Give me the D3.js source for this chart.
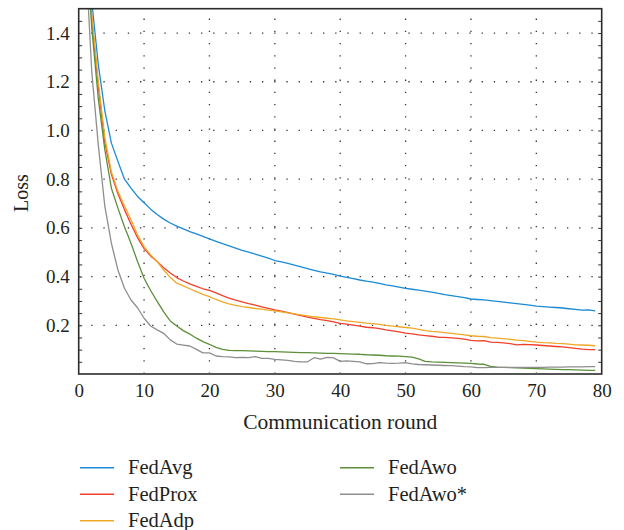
<!DOCTYPE html>
<html>
<head>
<meta charset="utf-8">
<script src="https://cdn.jsdelivr.net/npm/d3@7"></script>
<style>
  html, body { margin: 0; padding: 0; background: #fff; }
  svg { display: block; }
  text { font-family: "Liberation Serif", "Times New Roman", serif; fill: #231f20; }
</style>
</head>
<body>
<svg id="chart" width="624" height="530"></svg>
<script>
// ---- data ----
const rounds = d3.range(1, 80);
const seriesNames = ["FedAvg", "FedProx", "FedAdp", "FedAwo", "FedAwo*"];
const seriesColors = ["#1a8ad6", "#f23f2a", "#f0a828", "#5b8f3a", "#8e8e8e"];

const fedAvg = [2.0,1.53,1.27,1.08,0.948,0.873,0.80,0.763,0.729,0.703,0.677,0.655,0.636,0.62,0.607,0.596,0.585,0.575,0.565,0.555,
  0.545,0.535,0.526,0.517,0.508,0.500,0.492,0.484,0.476,0.466,0.46,0.454,0.447,0.44,0.433,0.426,0.419,0.414,0.409,0.402,
  0.397,0.392,0.386,0.381,0.377,0.372,0.366,0.362,0.357,0.352,0.348,0.344,0.340,0.336,0.331,0.326,0.322,0.318,0.314,0.308,
  0.306,0.304,0.301,0.298,0.295,0.292,0.289,0.286,0.283,0.279,0.277,0.275,0.273,0.271,0.268,0.265,0.262,0.263,0.259];
const fedProx = [1.9,1.46,1.18,0.95,0.82,0.74,0.675,0.615,0.56,0.515,0.485,0.462,0.436,0.415,0.396,0.382,0.370,0.360,0.350,0.343,
  0.333,0.322,0.312,0.303,0.296,0.289,0.283,0.276,0.269,0.263,0.258,0.252,0.246,0.24,0.234,0.228,0.223,0.219,0.214,0.208,
  0.205,0.201,0.197,0.192,0.19,0.186,0.181,0.177,0.173,0.168,0.165,0.161,0.158,0.155,0.151,0.150,0.148,0.146,0.143,0.138,
  0.136,0.137,0.131,0.130,0.128,0.125,0.120,0.122,0.121,0.119,0.117,0.115,0.113,0.111,0.108,0.105,0.102,0.100,0.100];
const fedAdp = [1.9,1.47,1.20,0.97,0.83,0.75,0.69,0.633,0.571,0.523,0.489,0.462,0.427,0.397,0.373,0.362,0.350,0.338,0.327,0.318,
  0.306,0.296,0.288,0.282,0.277,0.273,0.269,0.266,0.262,0.259,0.255,0.251,0.247,0.243,0.239,0.235,0.232,0.229,0.226,0.222,
  0.218,0.215,0.212,0.209,0.207,0.204,0.200,0.197,0.194,0.191,0.188,0.183,0.178,0.175,0.173,0.170,0.167,0.164,0.161,0.157,
  0.155,0.154,0.149,0.147,0.145,0.142,0.139,0.137,0.134,0.131,0.129,0.128,0.126,0.125,0.123,0.120,0.119,0.118,0.116];
const fedAwo = [1.85,1.42,1.13,0.92,0.763,0.681,0.605,0.537,0.462,0.393,0.343,0.298,0.255,0.218,0.197,0.178,0.164,0.147,0.133,0.122,
  0.109,0.101,0.097,0.096,0.096,0.095,0.094,0.093,0.092,0.092,0.091,0.090,0.089,0.088,0.088,0.087,0.086,0.085,0.085,0.084,
  0.083,0.082,0.081,0.079,0.078,0.077,0.075,0.074,0.073,0.071,0.069,0.062,0.052,0.050,0.049,0.048,0.047,0.046,0.045,0.044,
  0.041,0.040,0.031,0.028,0.027,0.026,0.025,0.024,0.023,0.022,0.021,0.020,0.019,0.018,0.018,0.017,0.016,0.015,0.015];
const fedAwoStar = [1.75,1.24,0.94,0.688,0.537,0.427,0.352,0.304,0.272,0.229,0.197,0.181,0.167,0.140,0.123,0.119,0.115,0.101,0.087,0.087,
  0.074,0.071,0.070,0.067,0.068,0.067,0.071,0.064,0.064,0.060,0.058,0.056,0.052,0.050,0.050,0.067,0.061,0.068,0.066,0.052,
  0.054,0.052,0.050,0.042,0.043,0.047,0.045,0.044,0.045,0.047,0.042,0.039,0.038,0.037,0.036,0.035,0.034,0.032,0.030,0.029,
  0.026,0.026,0.027,0.027,0.027,0.027,0.027,0.027,0.027,0.027,0.027,0.028,0.028,0.028,0.029,0.029,0.029,0.030,0.030];
const seriesValues = [fedAvg, fedProx, fedAdp, fedAwo, fedAwoStar];

const xTicks = [0, 10, 20, 30, 40, 50, 60, 70, 80];
const yTicks = [0.2, 0.4, 0.6, 0.8, 1.0, 1.2, 1.4];
const yTickLabels = ["0.2", "0.4", "0.6", "0.8", "1.0", "1.2", "1.4"];
const xTitle = "Communication round";
const yTitle = "Loss";

// ---- layout ----
const L = 78.7, R = 601.7, T = 8.7, B = 374;
const svg = d3.select("#chart");
const x = d3.scaleLinear().domain([0, 80]).range([L, R]);
const y = d3.scaleLinear().domain([0, 1.5]).range([B, T]);

// grid (dotted)
const grid = svg.append("g").attr("stroke", "#333").attr("stroke-width", 1.3)
  .attr("stroke-dasharray", "1.3 10.9");
grid.selectAll("line.h").data(yTicks).join("line")
  .attr("x1", L + 1).attr("x2", R)
  .attr("y1", d => y(d)).attr("y2", d => y(d))
  .attr("stroke-dashoffset", -11.5);
grid.selectAll("line.v").data(xTicks.slice(1, -1)).join("line")
  .attr("x1", d => x(d)).attr("x2", d => x(d))
  .attr("y1", B - 1).attr("y2", T)
  .attr("stroke-dashoffset", -11.5);

// lines
svg.append("clipPath").attr("id", "clip").append("rect")
  .attr("x", L).attr("y", T - 0.5).attr("width", R - L).attr("height", B - T + 0.5);
const line = d3.line().x((d, i) => x(rounds[i])).y(d => y(d));
svg.append("g").attr("clip-path", "url(#clip)")
  .selectAll("path").data(seriesValues).join("path")
  .attr("d", d => line(d))
  .attr("fill", "none")
  .attr("stroke", (d, i) => seriesColors[i])
  .attr("stroke-width", 1.3)
  .attr("stroke-linejoin", "round");

// minor ticks on left and right (inward)
const minor = d3.range(0.05, 1.5, 0.05);
svg.append("g").attr("transform", `translate(${L},0)`)
  .call(d3.axisRight(y).tickValues(minor).tickSize(3.5).tickFormat(""))
  .call(g => g.select(".domain").remove())
  .selectAll("line").attr("stroke", "#333").attr("stroke-width", 1);
svg.append("g").attr("transform", `translate(${R},0)`)
  .call(d3.axisLeft(y).tickValues(minor).tickSize(3.5).tickFormat(""))
  .call(g => g.select(".domain").remove())
  .selectAll("line").attr("stroke", "#333").attr("stroke-width", 1);

// frame
svg.append("rect").attr("x", L).attr("y", T).attr("width", R - L).attr("height", B - T)
  .attr("fill", "none").attr("stroke", "#2b2b2b").attr("stroke-width", 1.6);

// tick labels via axes
const yAxis = svg.append("g").attr("transform", `translate(${L},0)`)
  .call(d3.axisLeft(y).tickValues(yTicks).tickSize(0).tickPadding(9)
    .tickFormat((d, i) => yTickLabels[i]));
yAxis.select(".domain").remove();
yAxis.selectAll("text").attr("font-size", 19).attr("fill", "#231f20");

const xAxis = svg.append("g").attr("transform", `translate(0,${B})`)
  .call(d3.axisBottom(x).tickValues(xTicks).tickSize(0).tickPadding(10).tickFormat(d3.format("d")));
xAxis.select(".domain").remove();
xAxis.selectAll("text").attr("font-size", 19).attr("fill", "#231f20");

// axis titles
svg.append("text").attr("x", (L + R) / 2).attr("y", 428.5).attr("text-anchor", "middle")
  .attr("font-size", 21.5).text(xTitle);
svg.append("text").attr("transform", "translate(28,193) rotate(-90)").attr("text-anchor", "middle")
  .attr("font-size", 20).text(yTitle);

// legend
const legendCols = [[80, 128], [340, 388]];
const legendRowY = [467.7, 494.2, 520.7];
const lg = svg.append("g");
seriesNames.forEach((name, i) => {
  const col = i < 3 ? 0 : 1;
  const row = i < 3 ? i : i - 3;
  const [lx, tx] = legendCols[col];
  const ly = legendRowY[row];
  lg.append("line").attr("x1", lx).attr("x2", lx + 34).attr("y1", ly).attr("y2", ly)
    .attr("stroke", seriesColors[i]).attr("stroke-width", 1.5);
  lg.append("text").attr("x", tx).attr("y", ly + 6.5).attr("font-size", 20.5).text(name);
});
</script>
</body>
</html>
